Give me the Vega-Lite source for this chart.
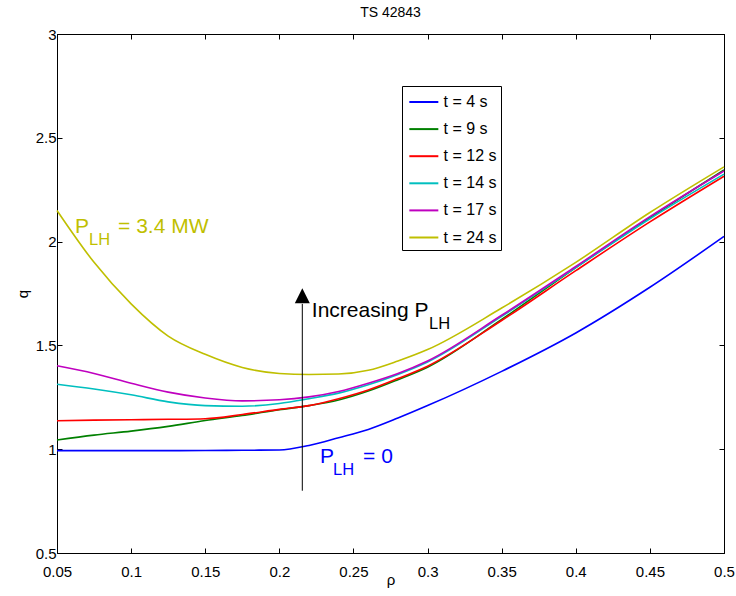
{
  "$schema": "https://vega.github.io/schema/vega-lite/v6.json",
  "width": 667,
  "height": 519,
  "autosize": {"type": "none"},
  "padding": {"left": 57, "top": 34, "right": 12, "bottom": 43},
  "background": "white",
  "title": {"text": "TS 42843", "fontSize": 14, "font": "Liberation Sans", "fontWeight": "normal", "anchor": "middle", "frame": "group", "offset": 16, "dy": 20, "baseline": "alphabetic", "color": "black"},
  "config": {
    "view": {"stroke": "black", "strokeWidth": 1},
    "axis": {"grid": false, "minExtent": 0, "domainColor": "black", "tickColor": "black", "tickSize": -5, "labelFont": "Liberation Sans", "labelFontSize": 15, "labelColor": "black", "titleFont": "Liberation Sans", "titleFontSize": 15, "titleFontWeight": "normal", "titleColor": "black", "labelFlush": false, "labelOverlap": false, "labelBound": false},
    "legend": {"strokeColor": "black", "fillColor": "white", "strokeWidth": 1, "padding": 4, "symbolType": "M-0.81,0L1.9,0", "symbolSize": 458, "symbolStrokeWidth": 2, "labelFont": "Liberation Sans", "labelFontSize": 16, "labelColor": "black", "labelOffset": 13.6, "rowPadding": 7.1}
  },
  "datasets": {
    "curves": [
      {"series": "t = 4 s", "rho": 0.05, "q": 0.993},
      {"series": "t = 4 s", "rho": 0.075, "q": 0.993},
      {"series": "t = 4 s", "rho": 0.1, "q": 0.993},
      {"series": "t = 4 s", "rho": 0.125, "q": 0.993},
      {"series": "t = 4 s", "rho": 0.15, "q": 0.994},
      {"series": "t = 4 s", "rho": 0.175, "q": 0.995},
      {"series": "t = 4 s", "rho": 0.2, "q": 0.996},
      {"series": "t = 4 s", "rho": 0.22, "q": 1.018},
      {"series": "t = 4 s", "rho": 0.24, "q": 1.055},
      {"series": "t = 4 s", "rho": 0.26, "q": 1.095},
      {"series": "t = 4 s", "rho": 0.28, "q": 1.15},
      {"series": "t = 4 s", "rho": 0.3, "q": 1.21},
      {"series": "t = 4 s", "rho": 0.35, "q": 1.375},
      {"series": "t = 4 s", "rho": 0.4, "q": 1.56},
      {"series": "t = 4 s", "rho": 0.45, "q": 1.78},
      {"series": "t = 4 s", "rho": 0.5, "q": 2.025},

      {"series": "t = 9 s", "rho": 0.05, "q": 1.044},
      {"series": "t = 9 s", "rho": 0.075, "q": 1.068},
      {"series": "t = 9 s", "rho": 0.1, "q": 1.087},
      {"series": "t = 9 s", "rho": 0.125, "q": 1.11},
      {"series": "t = 9 s", "rho": 0.15, "q": 1.138},
      {"series": "t = 9 s", "rho": 0.175, "q": 1.162},
      {"series": "t = 9 s", "rho": 0.2, "q": 1.19},
      {"series": "t = 9 s", "rho": 0.22, "q": 1.21},
      {"series": "t = 9 s", "rho": 0.24, "q": 1.237},
      {"series": "t = 9 s", "rho": 0.26, "q": 1.28},
      {"series": "t = 9 s", "rho": 0.28, "q": 1.335},
      {"series": "t = 9 s", "rho": 0.3, "q": 1.395},
      {"series": "t = 9 s", "rho": 0.35, "q": 1.625},
      {"series": "t = 9 s", "rho": 0.4, "q": 1.875},
      {"series": "t = 9 s", "rho": 0.45, "q": 2.115},
      {"series": "t = 9 s", "rho": 0.5, "q": 2.345},

      {"series": "t = 12 s", "rho": 0.05, "q": 1.137},
      {"series": "t = 12 s", "rho": 0.075, "q": 1.14},
      {"series": "t = 12 s", "rho": 0.1, "q": 1.142},
      {"series": "t = 12 s", "rho": 0.125, "q": 1.144},
      {"series": "t = 12 s", "rho": 0.15, "q": 1.147},
      {"series": "t = 12 s", "rho": 0.175, "q": 1.167},
      {"series": "t = 12 s", "rho": 0.2, "q": 1.192},
      {"series": "t = 12 s", "rho": 0.22, "q": 1.21},
      {"series": "t = 12 s", "rho": 0.24, "q": 1.243},
      {"series": "t = 12 s", "rho": 0.26, "q": 1.285},
      {"series": "t = 12 s", "rho": 0.28, "q": 1.34},
      {"series": "t = 12 s", "rho": 0.3, "q": 1.4},
      {"series": "t = 12 s", "rho": 0.35, "q": 1.62},
      {"series": "t = 12 s", "rho": 0.4, "q": 1.86},
      {"series": "t = 12 s", "rho": 0.45, "q": 2.095},
      {"series": "t = 12 s", "rho": 0.5, "q": 2.315},

      {"series": "t = 14 s", "rho": 0.05, "q": 1.313},
      {"series": "t = 14 s", "rho": 0.075, "q": 1.29},
      {"series": "t = 14 s", "rho": 0.1, "q": 1.262},
      {"series": "t = 14 s", "rho": 0.125, "q": 1.228},
      {"series": "t = 14 s", "rho": 0.15, "q": 1.21},
      {"series": "t = 14 s", "rho": 0.175, "q": 1.207},
      {"series": "t = 14 s", "rho": 0.2, "q": 1.22},
      {"series": "t = 14 s", "rho": 0.22, "q": 1.243},
      {"series": "t = 14 s", "rho": 0.24, "q": 1.27},
      {"series": "t = 14 s", "rho": 0.26, "q": 1.31},
      {"series": "t = 14 s", "rho": 0.28, "q": 1.36},
      {"series": "t = 14 s", "rho": 0.3, "q": 1.42},
      {"series": "t = 14 s", "rho": 0.35, "q": 1.64},
      {"series": "t = 14 s", "rho": 0.4, "q": 1.875},
      {"series": "t = 14 s", "rho": 0.45, "q": 2.11},
      {"series": "t = 14 s", "rho": 0.5, "q": 2.325},

      {"series": "t = 17 s", "rho": 0.05, "q": 1.402},
      {"series": "t = 17 s", "rho": 0.075, "q": 1.365},
      {"series": "t = 17 s", "rho": 0.1, "q": 1.318},
      {"series": "t = 17 s", "rho": 0.125, "q": 1.275},
      {"series": "t = 17 s", "rho": 0.15, "q": 1.247},
      {"series": "t = 17 s", "rho": 0.175, "q": 1.233},
      {"series": "t = 17 s", "rho": 0.2, "q": 1.238},
      {"series": "t = 17 s", "rho": 0.22, "q": 1.252},
      {"series": "t = 17 s", "rho": 0.24, "q": 1.278},
      {"series": "t = 17 s", "rho": 0.26, "q": 1.318},
      {"series": "t = 17 s", "rho": 0.28, "q": 1.365},
      {"series": "t = 17 s", "rho": 0.3, "q": 1.425},
      {"series": "t = 17 s", "rho": 0.35, "q": 1.645},
      {"series": "t = 17 s", "rho": 0.4, "q": 1.88},
      {"series": "t = 17 s", "rho": 0.45, "q": 2.12},
      {"series": "t = 17 s", "rho": 0.5, "q": 2.34},

      {"series": "t = 24 s", "rho": 0.05, "q": 2.15},
      {"series": "t = 24 s", "rho": 0.075, "q": 1.9},
      {"series": "t = 24 s", "rho": 0.1, "q": 1.7},
      {"series": "t = 24 s", "rho": 0.125, "q": 1.545},
      {"series": "t = 24 s", "rho": 0.15, "q": 1.457},
      {"series": "t = 24 s", "rho": 0.175, "q": 1.394},
      {"series": "t = 24 s", "rho": 0.2, "q": 1.365},
      {"series": "t = 24 s", "rho": 0.22, "q": 1.36},
      {"series": "t = 24 s", "rho": 0.24, "q": 1.362},
      {"series": "t = 24 s", "rho": 0.26, "q": 1.38},
      {"series": "t = 24 s", "rho": 0.28, "q": 1.425},
      {"series": "t = 24 s", "rho": 0.3, "q": 1.48},
      {"series": "t = 24 s", "rho": 0.35, "q": 1.68},
      {"series": "t = 24 s", "rho": 0.4, "q": 1.9},
      {"series": "t = 24 s", "rho": 0.45, "q": 2.14},
      {"series": "t = 24 s", "rho": 0.5, "q": 2.36}
    ],
    "yellowMain": [
      {"rho": 0.0621, "q": 2.0414, "label": "P"},
      {"rho": 0.0912, "q": 2.0414, "label": "= 3.4 MW"}
    ],
    "yellowSub": [
      {"rho": 0.0716, "q": 1.9836, "label": "LH"}
    ],
    "blackMain": [
      {"rho": 0.2219, "q": 1.6383, "label": "Increasing P"}
    ],
    "blackSub": [
      {"rho": 0.301, "q": 1.5805, "label": "LH"}
    ],
    "blueMain": [
      {"rho": 0.2275, "q": 0.9335, "label": "P"},
      {"rho": 0.2565, "q": 0.9335, "label": "= 0"}
    ],
    "blueSub": [
      {"rho": 0.2362, "q": 0.8757, "label": "LH"}
    ],
    "arrow": [
      {"rho": 0.2155, "q0": 0.80, "q1": 1.70, "qhead": 1.739}
    ]
  },
  "layer": [
    {
      "data": {"name": "curves"},
      "mark": {"type": "line", "strokeWidth": 1.6, "interpolate": "monotone"},
      "encoding": {
        "x": {"field": "rho", "type": "quantitative", "scale": {"domain": [0.05, 0.5], "nice": false, "zero": false},
          "axis": {"orient": "bottom", "values": [0.05, 0.1, 0.15, 0.2, 0.25, 0.3, 0.35, 0.4, 0.45, 0.5], "format": "~g", "title": "ρ", "labelPadding": 16, "titleX": 333.5, "titleY": 31.5, "titleBaseline": "alphabetic", "titleAlign": "center"}},
        "y": {"field": "q", "type": "quantitative", "scale": {"domain": [0.5, 3], "nice": false, "zero": false},
          "axis": {"orient": "left", "values": [0.5, 1, 1.5, 2, 2.5, 3], "format": "~g", "title": "q", "labelPadding": 6, "titleX": -30, "titleY": 259.5, "titleAngle": -90, "titleBaseline": "alphabetic", "titleAlign": "center"}},
        "color": {"field": "series", "type": "nominal",
          "scale": {"domain": ["t = 4 s", "t = 9 s", "t = 12 s", "t = 14 s", "t = 17 s", "t = 24 s"], "range": ["#0000ff", "#008000", "#ff0000", "#00bfbf", "#bf00bf", "#bfbf00"]},
          "legend": {"title": null, "orient": "none", "legendX": 345, "legendY": 52}}
      }
    },
    {
      "data": {"name": "arrow"},
      "mark": {"type": "rule", "color": "black", "strokeWidth": 1},
      "encoding": {
        "x": {"field": "rho", "type": "quantitative", "scale": {"domain": [0.05, 0.5], "nice": false, "zero": false},
          "axis": {"orient": "top", "values": [0.05, 0.1, 0.15, 0.2, 0.25, 0.3, 0.35, 0.4, 0.45, 0.5], "labels": false, "title": null, "minExtent": 0, "maxExtent": 0}},
        "y": {"field": "q0", "type": "quantitative", "scale": {"domain": [0.5, 3], "nice": false, "zero": false},
          "axis": {"orient": "right", "values": [0.5, 1, 1.5, 2, 2.5, 3], "labels": false, "title": null, "minExtent": 0, "maxExtent": 0}},
        "y2": {"field": "q1"}
      }
    },
    {
      "data": {"name": "arrow"},
      "mark": {"type": "point", "shape": "M0,-1L1,1L-1,1Z", "size": 225, "filled": true, "color": "black", "opacity": 1},
      "encoding": {
        "x": {"field": "rho", "type": "quantitative", "axis": null},
        "y": {"field": "qhead", "type": "quantitative", "axis": null}
      }
    },
    {
      "data": {"name": "yellowMain"},
      "mark": {"type": "text", "align": "left", "baseline": "alphabetic", "font": "Liberation Sans", "fontSize": 21, "color": "#bfbf00"},
      "encoding": {
        "x": {"field": "rho", "type": "quantitative", "axis": null},
        "y": {"field": "q", "type": "quantitative", "axis": null},
        "text": {"field": "label"}
      }
    },
    {
      "data": {"name": "yellowSub"},
      "mark": {"type": "text", "align": "left", "baseline": "alphabetic", "font": "Liberation Sans", "fontSize": 16.5, "color": "#bfbf00"},
      "encoding": {
        "x": {"field": "rho", "type": "quantitative", "axis": null},
        "y": {"field": "q", "type": "quantitative", "axis": null},
        "text": {"field": "label"}
      }
    },
    {
      "data": {"name": "blackMain"},
      "mark": {"type": "text", "align": "left", "baseline": "alphabetic", "font": "Liberation Sans", "fontSize": 21, "color": "black"},
      "encoding": {
        "x": {"field": "rho", "type": "quantitative", "axis": null},
        "y": {"field": "q", "type": "quantitative", "axis": null},
        "text": {"field": "label"}
      }
    },
    {
      "data": {"name": "blackSub"},
      "mark": {"type": "text", "align": "left", "baseline": "alphabetic", "font": "Liberation Sans", "fontSize": 16.5, "color": "black"},
      "encoding": {
        "x": {"field": "rho", "type": "quantitative", "axis": null},
        "y": {"field": "q", "type": "quantitative", "axis": null},
        "text": {"field": "label"}
      }
    },
    {
      "data": {"name": "blueMain"},
      "mark": {"type": "text", "align": "left", "baseline": "alphabetic", "font": "Liberation Sans", "fontSize": 21, "color": "#0000ff"},
      "encoding": {
        "x": {"field": "rho", "type": "quantitative", "axis": null},
        "y": {"field": "q", "type": "quantitative", "axis": null},
        "text": {"field": "label"}
      }
    },
    {
      "data": {"name": "blueSub"},
      "mark": {"type": "text", "align": "left", "baseline": "alphabetic", "font": "Liberation Sans", "fontSize": 16.5, "color": "#0000ff"},
      "encoding": {
        "x": {"field": "rho", "type": "quantitative", "axis": null},
        "y": {"field": "q", "type": "quantitative", "axis": null},
        "text": {"field": "label"}
      }
    }
  ],
  "resolve": {"axis": {"x": "independent", "y": "independent"}}
}
